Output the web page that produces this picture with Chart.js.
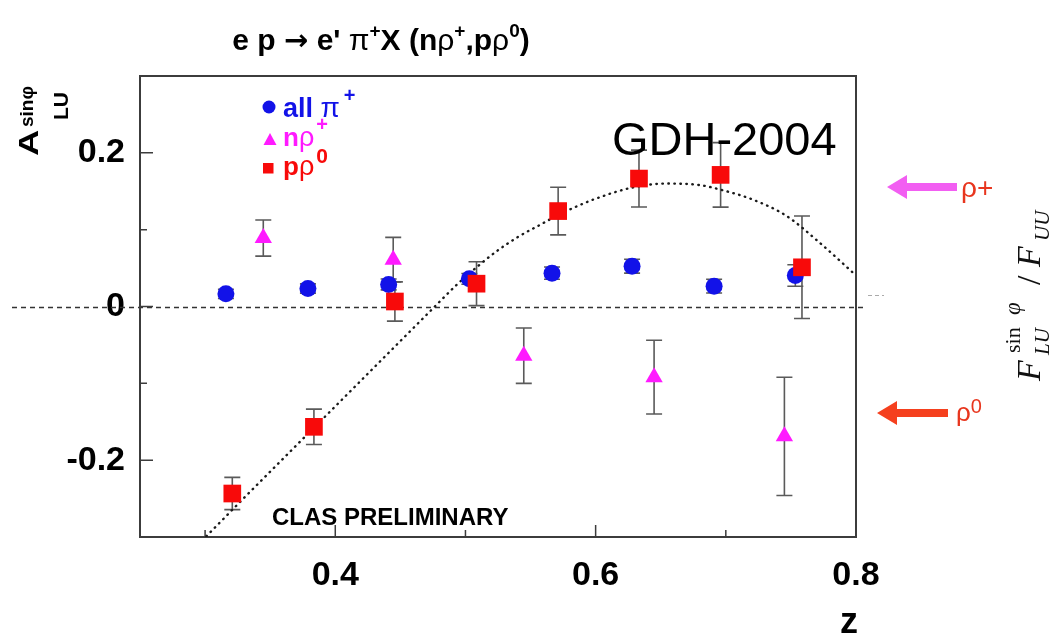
<!DOCTYPE html>
<html><head><meta charset="utf-8">
<script src="https://cdn.jsdelivr.net/npm/chart.js@4.4.1/dist/chart.umd.min.js"></script>
<style>html,body{margin:0;padding:0;background:#fff;}#wrap{width:1050px;height:638px;position:relative;}</style>
</head><body><div id="wrap"><canvas id="c" width="1050" height="638"></canvas></div>
<script>
// ---- data ----
const allPiX   = [0.316, 0.379, 0.441, 0.503, 0.5665, 0.628, 0.691, 0.7534];
const allPiY   = [0.0165, 0.0234, 0.0287, 0.036, 0.0434, 0.0525, 0.0265, 0.0404];
const allPiErr = [0.006, 0.006, 0.007, 0.007, 0.008, 0.009, 0.009, 0.014];

const nRhoX   = [0.3447, 0.4445, 0.5448, 0.6449, 0.745];
const nRhoY   = [0.089, 0.061, -0.064, -0.092, -0.169];
const nRhoErr = [0.0235, 0.029, 0.036, 0.048, 0.077];

const pRhoX   = [0.3209, 0.3836, 0.4458, 0.5085, 0.5712, 0.6333, 0.696, 0.7585];
const pRhoY   = [-0.2434, -0.1566, 0.0065, 0.0297, 0.1242, 0.1665, 0.1713, 0.051];
const pRhoErr = [0.021, 0.023, 0.0255, 0.0285, 0.031, 0.037, 0.042, 0.0667];

const fitX = [0.301, 0.33, 0.36, 0.39, 0.42, 0.45, 0.4765, 0.4925, 0.5085, 0.524, 0.5418, 0.557, 0.5712, 0.598, 0.6287, 0.6544, 0.68, 0.6961, 0.7209, 0.7465, 0.7721, 0.799];
const fitY = [-0.299, -0.249, -0.198, -0.147, -0.096, -0.045, 0.0, 0.027, 0.051, 0.072, 0.092, 0.106, 0.119, 0.139, 0.155, 0.160, 0.158, 0.152, 0.139, 0.118, 0.083, 0.042];

const xTickValues = [0.4, 0.6, 0.8];
const xTickLabels = ['0.4', '0.6', '0.8'];
const xMinorTicks = [0.3, 0.5, 0.7];
const yTickValues = [-0.2, 0, 0.2];
const yTickLabels = ['-0.2', '0', '0.2'];
const yMinorTicks = [-0.1, 0.1];

const BLUE = '#1212e8', MAG = '#ff1aff', RED = '#f80a0a';
const SANS = '"Liberation Sans", Arial, sans-serif';
const SERIF = '"Liberation Serif", "DejaVu Serif", serif';

const pts = (xs, ys) => xs.map((x, i) => ({x: x, y: ys[i]}));

function rich(ctx, x, y, segs, align, color) {
  let w = 0;
  segs.forEach(s => { ctx.font = s.f; s.w = ctx.measureText(s.t).width + (s.gap || 0); w += s.w; });
  let cx = align === 'center' ? x - w / 2 : (align === 'right' ? x - w : x);
  ctx.textAlign = 'left';
  ctx.textBaseline = 'alphabetic';
  segs.forEach(s => { ctx.font = s.f; ctx.fillStyle = s.c || color; ctx.fillText(s.t, cx, y + (s.dy || 0)); cx += s.w; });
}

const decor = {
  id: 'decor',
  beforeDatasetsDraw(chart) {
    const ctx = chart.ctx, a = chart.chartArea;
    const xs = chart.scales.x, ys = chart.scales.y;
    ctx.save();
    // zero line
    ctx.strokeStyle = '#333'; ctx.lineWidth = 1.3; ctx.setLineDash([5, 4]);
    const y0 = Math.round(ys.getPixelForValue(0)) + 0.5;
    ctx.beginPath(); ctx.moveTo(12, y0); ctx.lineTo(866, y0); ctx.stroke();
    ctx.strokeStyle = '#aaa'; ctx.lineWidth = 1.2; ctx.setLineDash([4, 3]);
    ctx.beginPath(); ctx.moveTo(868, y0 - 12); ctx.lineTo(884, y0 - 12); ctx.stroke();
    ctx.setLineDash([]);
    // frame
    ctx.strokeStyle = '#3c3c3c'; ctx.lineWidth = 2;
    ctx.strokeRect(a.left, a.top, a.right - a.left, a.bottom - a.top);
    // inward ticks
    ctx.lineWidth = 1.5;
    ctx.beginPath();
    xTickValues.forEach(v => { const p = xs.getPixelForValue(v); ctx.moveTo(p, a.bottom); ctx.lineTo(p, a.bottom - 12); });
    xMinorTicks.forEach(v => { const p = xs.getPixelForValue(v); ctx.moveTo(p, a.bottom); ctx.lineTo(p, a.bottom - 7); });
    yTickValues.forEach(v => { const p = ys.getPixelForValue(v); ctx.moveTo(a.left, p); ctx.lineTo(a.left + 13, p); });
    yMinorTicks.forEach(v => { const p = ys.getPixelForValue(v); ctx.moveTo(a.left, p); ctx.lineTo(a.left + 7, p); });
    ctx.stroke();
    // error bars
    ctx.strokeStyle = '#5a5a5a'; ctx.lineWidth = 1.6;
    const bars = (X, Y, E) => {
      X.forEach((x, i) => {
        const px = xs.getPixelForValue(x);
        const t = ys.getPixelForValue(Y[i] + E[i]);
        const b = ys.getPixelForValue(Y[i] - E[i]);
        ctx.beginPath();
        ctx.moveTo(px, t); ctx.lineTo(px, b);
        ctx.moveTo(px - 8, t); ctx.lineTo(px + 8, t);
        ctx.moveTo(px - 8, b); ctx.lineTo(px + 8, b);
        ctx.stroke();
      });
    };
    bars(allPiX, allPiY, allPiErr);
    bars(nRhoX, nRhoY, nRhoErr);
    bars(pRhoX, pRhoY, pRhoErr);
    ctx.restore();
  },
  afterDraw(chart) {
    const ctx = chart.ctx;
    ctx.save();
    const B = s => 'bold ' + s + 'px ' + SANS, R = s => s + 'px ' + SANS;
    // title
    rich(ctx, 381, 50, [
      {t: 'e p ', f: B(30)}, {t: '\u2192', f: 'bold 29px "DejaVu Sans"'}, {t: " e' ", f: B(30)},
      {t: '\u03C0', f: R(30)}, {t: '+', f: B(19), dy: -13},
      {t: 'X (n', f: B(30)}, {t: '\u03C1', f: R(30)}, {t: '+', f: B(19), dy: -13},
      {t: ',p', f: B(30)}, {t: '\u03C1', f: R(30)}, {t: '0', f: B(19), dy: -13},
      {t: ')', f: B(30)}
    ], 'center', '#000');
    // legend
    ctx.fillStyle = BLUE; ctx.beginPath(); ctx.arc(269, 107, 6.5, 0, Math.PI * 2); ctx.fill();
    ctx.fillStyle = MAG; ctx.beginPath(); ctx.moveTo(270, 133); ctx.lineTo(276.5, 145); ctx.lineTo(263.5, 145); ctx.closePath(); ctx.fill();
    ctx.fillStyle = RED; ctx.fillRect(263, 163, 10.5, 10.5);
    rich(ctx, 283, 117, [{t: 'all ', f: B(27)}, {t: '\u03C0', f: R(28), gap: 4}, {t: '+', f: B(20), dy: -15}], 'left', BLUE);
    rich(ctx, 283, 146, [{t: 'n', f: B(26)}, {t: '\u03C1', f: R(27), gap: 2}, {t: '+', f: B(20), dy: -15}], 'left', MAG);
    rich(ctx, 283, 175, [{t: 'p', f: B(26)}, {t: '\u03C1', f: R(27), gap: 2}, {t: '0', f: B(21), dy: -12}], 'left', RED);
    // GDH
    ctx.fillStyle = '#000'; ctx.font = R(47); ctx.textAlign = 'left'; ctx.fillText('GDH-2004', 612, 155);
    // CLAS
    ctx.font = B(24); ctx.fillText('CLAS PRELIMINARY', 272, 525);
    // z
    ctx.font = B(36); ctx.textAlign = 'right'; ctx.fillText('z', 858, 633);
    // y title
    ctx.save(); ctx.translate(38, 156); ctx.rotate(-Math.PI / 2);
    ctx.textAlign = 'left';
    ctx.save(); ctx.scale(1.35, 1); ctx.font = B(27); ctx.fillText('A', 0, 0); ctx.restore();
    ctx.font = B(19); ctx.fillText('sin\u03C6', 29, -5);
    ctx.font = B(21); ctx.fillText('LU', 36, 30);
    ctx.restore();
    // right arrows
    const arrow = (tip, tail, y, col) => {
      ctx.fillStyle = col; ctx.beginPath();
      ctx.moveTo(tip, y); ctx.lineTo(tip + 20, y - 12); ctx.lineTo(tip + 20, y - 4);
      ctx.lineTo(tail, y - 4); ctx.lineTo(tail, y + 4); ctx.lineTo(tip + 20, y + 4);
      ctx.lineTo(tip + 20, y + 12); ctx.closePath(); ctx.fill();
    };
    arrow(887, 957, 187, '#f25ef2');
    arrow(877, 948, 413, '#f5401e');
    rich(ctx, 961, 197, [{t: '\u03C1', f: R(28)}, {t: '+', f: R(28)}], 'left', '#e8361e');
    rich(ctx, 956, 421, [{t: '\u03C1', f: R(26)}, {t: '0', f: R(20), dy: -8}], 'left', '#e8361e');
    // rotated F label
    ctx.save(); ctx.translate(1040, 381); ctx.rotate(-Math.PI / 2);
    ctx.fillStyle = '#111'; ctx.textAlign = 'left';
    const I = s => 'italic ' + s + 'px ' + SERIF, U = s => s + 'px ' + SERIF;
    ctx.font = I(34); ctx.fillText('F', 0, 0);
    ctx.font = I(21); ctx.fillText('LU', 26, 9);
    ctx.font = U(22); ctx.fillText('sin', 28, -20);
    ctx.font = I(23); ctx.fillText('\u03C6', 66, -20);
    ctx.font = U(34); ctx.fillText('/', 96, 0);
    ctx.font = I(34); ctx.fillText('F', 114, 0);
    ctx.font = I(21); ctx.fillText('UU', 140, 9);
    ctx.restore();
    ctx.restore();
  }
};

new Chart(document.getElementById('c'), {
  type: 'scatter',
  data: {
    datasets: [
      {label: 'p\u03C10', data: pts(pRhoX, pRhoY), pointStyle: 'rect', pointRadius: 12.5, pointHoverRadius: 12.5,
       backgroundColor: RED, borderColor: RED, borderWidth: 0},
      {label: 'n\u03C1+', data: pts(nRhoX, nRhoY), pointStyle: 'triangle', pointRadius: 10, pointHoverRadius: 10,
       backgroundColor: MAG, borderColor: MAG, borderWidth: 0},
      {label: 'all \u03C0+', data: pts(allPiX, allPiY), pointStyle: 'circle', pointRadius: 8.5, pointHoverRadius: 8.5,
       backgroundColor: BLUE, borderColor: BLUE, borderWidth: 0},
      {label: 'fit', type: 'line', data: pts(fitX, fitY), showLine: true, pointRadius: 0, borderColor: '#1a1a1a',
       borderWidth: 2.4, borderDash: [0.5, 5.5], borderCapStyle: 'round', cubicInterpolationMode: 'monotone', fill: false}
    ]
  },
  options: {
    responsive: false, animation: false, events: [],
    layout: {padding: {left: 0, top: 76, right: 194, bottom: 0}},
    plugins: {legend: {display: false}, tooltip: {enabled: false}},
    scales: {
      x: {type: 'linear', min: 0.25, max: 0.8,
          grid: {display: false, drawTicks: false}, border: {display: false},
          afterBuildTicks: s => { s.ticks = xTickValues.map(v => ({value: v})); },
          afterFit: s => { s.height = 101; },
          ticks: {padding: 18, color: '#000', font: {family: SANS, size: 34, weight: 'bold'},
                  callback: (v, i) => xTickLabels[i]}},
      y: {type: 'linear', min: -0.3, max: 0.3,
          grid: {display: false, drawTicks: false}, border: {display: false},
          afterBuildTicks: s => { s.ticks = yTickValues.map(v => ({value: v})); },
          afterFit: s => { s.width = 140; },
          ticks: {padding: 15, color: '#000', font: {family: SANS, size: 34, weight: 'bold'},
                  callback: (v, i) => yTickLabels[i]}}
    }
  },
  plugins: [decor]
});
</script></body></html>
